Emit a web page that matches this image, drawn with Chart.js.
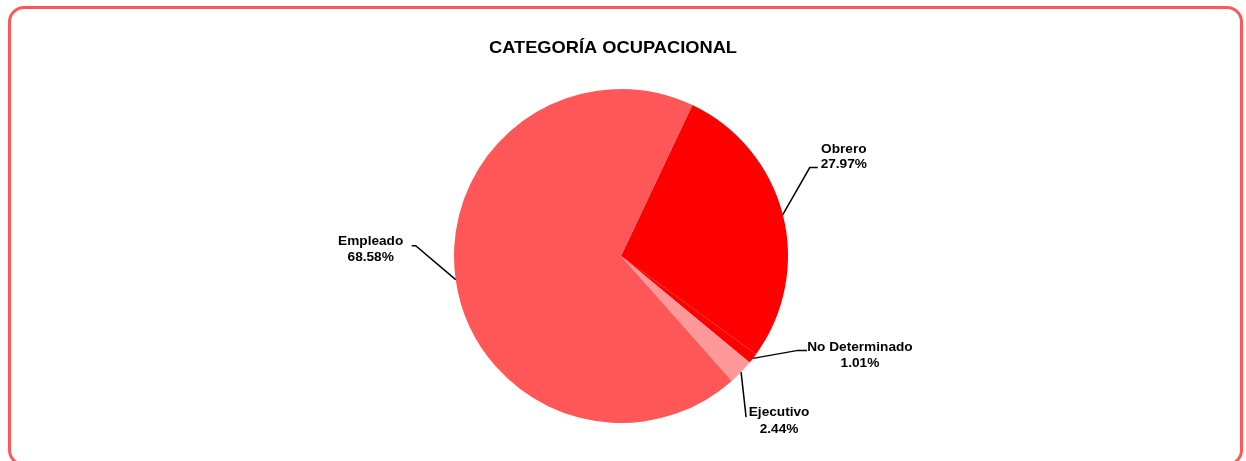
<!DOCTYPE html>
<html>
<head>
<meta charset="utf-8">
<script src="https://cdn.jsdelivr.net/npm/chart.js@4/dist/chart.umd.min.js"></script>
<style>
  html, body { margin: 0; padding: 0; background: #fff; overflow: hidden; }
  #wrap { position: relative; width: 1246px; height: 461px; }
  #frame { position: absolute; left: 8px; top: 6px; width: 1235px; height: 460px;
           box-sizing: border-box; border: 3px solid #FF5757; border-radius: 16px; }
  canvas { position: absolute; left: 0; top: 0; }
</style>
</head>
<body>
<div id="wrap">
  <div id="frame"></div>
  <canvas id="c" width="1246" height="461"></canvas>
</div>
<script>
const chartTitle = 'CATEGORÍA OCUPACIONAL';
const categories = ['Obrero', 'No Determinado', 'Ejecutivo', 'Empleado'];
const percentages = [27.97, 1.01, 2.44, 68.58];
const percentLabels = ['27.97%', '1.01%', '2.44%', '68.58%'];
const sliceColors = ['#FF0000', '#FF0000', '#FF9999', '#FF5757'];

// Leader-line / label layout, relative to each slice's outer-edge midpoint
const labelLayout = [
  { elbow: [27, -47], stub: [35, -47], text: [61, -62, -47] },
  { elbow: [45, -8],  stub: [54, -8],  text: [107, -7, 9] },
  { elbow: [5, 45],   stub: [5, 45],   text: [38, 44, 61] },
  { elbow: [-40, -34], stub: [-44, -34], text: [-85, -35, -19] }
];

function stretchedText(ctx, str, x, y, sx) {
  ctx.save();
  ctx.translate(x, y);
  ctx.scale(sx, 1);
  ctx.fillText(str, 0, 0);
  ctx.restore();
}

const labelPlugin = {
  id: 'pieLabels',
  afterDraw(chart) {
    const ctx = chart.ctx;
    const meta = chart.getDatasetMeta(0);
    ctx.save();
    ctx.fillStyle = '#000';
    ctx.textAlign = 'center';
    ctx.textBaseline = 'alphabetic';
    ctx.font = 'bold 17px "Liberation Sans", Arial, sans-serif';
    stretchedText(ctx, chartTitle, 613, 53, 1.075);
    ctx.font = 'bold 13px "Liberation Sans", Arial, sans-serif';
    ctx.strokeStyle = '#000';
    ctx.lineWidth = 1.5;
    meta.data.forEach((arc, i) => {
      const p = arc.getProps(['x', 'y', 'startAngle', 'endAngle', 'outerRadius'], true);
      const mid = (p.startAngle + p.endAngle) / 2;
      const ex = p.x + Math.cos(mid) * p.outerRadius;
      const ey = p.y + Math.sin(mid) * p.outerRadius;
      const L = labelLayout[i];
      ctx.beginPath();
      ctx.moveTo(ex, ey);
      ctx.lineTo(ex + L.elbow[0], ey + L.elbow[1]);
      ctx.lineTo(ex + L.stub[0], ey + L.stub[1]);
      ctx.stroke();
      stretchedText(ctx, categories[i], ex + L.text[0], ey + L.text[1], 1.05);
      stretchedText(ctx, percentLabels[i], ex + L.text[0], ey + L.text[2], 1.05);
    });
    ctx.restore();
  }
};

new Chart(document.getElementById('c'), {
  type: 'pie',
  data: {
    labels: categories,
    datasets: [{
      data: percentages,
      backgroundColor: sliceColors,
      borderWidth: 0
    }]
  },
  options: {
    responsive: false,
    animation: false,
    rotation: 25.3,
    layout: { padding: { top: 89, bottom: 38, left: 454, right: 458 } },
    events: [],
    plugins: {
      legend: { display: false },
      tooltip: { enabled: false },
      title: { display: false }
    }
  },
  plugins: [labelPlugin]
});
</script>
</body>
</html>
